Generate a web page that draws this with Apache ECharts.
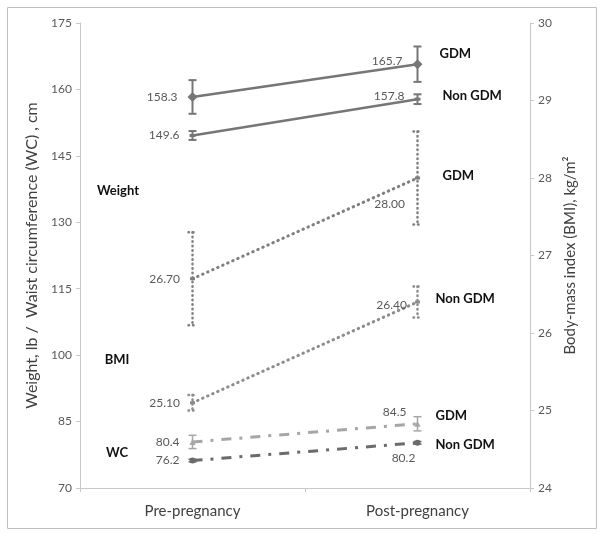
<!DOCTYPE html>
<html><head><meta charset="utf-8">
<script src="https://cdn.jsdelivr.net/npm/echarts@6/dist/echarts.min.js"></script>
<style>html,body{margin:0;padding:0;background:#fff}#c{width:604px;height:537px}</style>
</head><body><div id="c"></div>
<script>
// ---- data ----
const categories = ['Pre-pregnancy', 'Post-pregnancy'];
const weightGDM = [158.3, 165.7];
const weightGDMErr = [3.8, 4.0];
const weightNonGDM = [149.6, 157.8];
const weightNonGDMErr = [1.0, 1.1];
const bmiGDM = [26.70, 28.00];
const bmiGDMErr = [0.6, 0.6];
const bmiNonGDM = [25.10, 26.40];
const bmiNonGDMErr = [0.1, 0.2];
const wcGDM = [80.4, 84.5];
const wcGDMErr = [1.5, 1.6];
const wcNonGDM = [76.2, 80.2];
const wcNonGDMErr = [0.3, 0.3];
const leftTicks = [70, 175, 15];
const rightTicks = [24, 30, 1];
const groupLabels = ['Weight', 'BMI', 'WC'];

const chart = echarts.init(document.getElementById('c'), null, {renderer: 'canvas'});
const FONT = 'Lato';
const labelColor = '#595959';

function lineSeries(name, vals, decimals, yIdx, color, lineStyle, symbol, symbolSize, endText, endOffset, labelCfgs) {
  return {
    name, type: 'line', yAxisIndex: yIdx,
    data: vals.map((v, i) => ({
      value: v,
      label: Object.assign({show: true, formatter: v.toFixed(decimals), color: labelColor, fontFamily: FONT, fontSize: 12}, labelCfgs[i])
    })),
    symbol, symbolSize, showSymbol: true,
    itemStyle: {color},
    lineStyle: Object.assign({color}, lineStyle),
    endLabel: {show: true, formatter: endText, fontFamily: FONT, fontWeight: 'bold', fontSize: 13, color: '#111', distance: 22, offset: endOffset},
    z: 3, animation: false
  };
}

function errSeries(vals, errs, yIdx, color, lineStyle) {
  return {
    type: 'custom', yAxisIndex: yIdx, animation: false, z: 2,
    data: vals.map((v, i) => [i, v, errs[i]]),
    renderItem: function (params, api) {
      const x = api.value(0), y = api.value(1), e = api.value(2);
      const top = api.coord([x, y + e]);
      const bot = api.coord([x, y - e]);
      const w = 4;
      const style = Object.assign({stroke: color, fill: null}, lineStyle);
      return {type: 'group', children: [
        {type: 'line', shape: {x1: top[0], y1: top[1], x2: bot[0], y2: bot[1]}, style},
        {type: 'line', shape: {x1: top[0] - w, y1: top[1], x2: top[0] + w, y2: top[1]}, style},
        {type: 'line', shape: {x1: bot[0] - w, y1: bot[1], x2: bot[0] + w, y2: bot[1]}, style}
      ]};
    }
  };
}

const cWeight = '#767676';
const cBmiG = '#7f7f7f';
const cBmiN = '#8c8c8c';
const cWcG = '#a6a6a6';
const cWcN = '#6b6b6b';
const dotted = {type: [0.5, 5], cap: 'round', width: 3};
const dashDot = {type: [10, 8, 3, 8], width: 3};

const option = {
  backgroundColor: '#fff',
  animation: false,
  grid: {left: 80, right: 74, top: 23, bottom: 49},
  xAxis: {
    type: 'category', data: categories, boundaryGap: true,
    axisLine: {lineStyle: {color: '#c8c8c8', width: 1}},
    axisTick: {show: true, length: 4, lineStyle: {color: '#c8c8c8'}},
    axisLabel: {color: '#404040', fontFamily: FONT, fontSize: 15, margin: 16}
  },
  yAxis: [{
    type: 'value', min: leftTicks[0], max: leftTicks[1], interval: leftTicks[2], position: 'left',
    name: 'Weight, lb /  Waist circumference (WC) , cm', nameLocation: 'middle', nameRotate: 90, nameGap: 30,
    nameTextStyle: {color: '#404040', fontFamily: FONT, fontSize: 16},
    axisLine: {show: true, lineStyle: {color: '#c8c8c8'}},
    axisTick: {show: true, length: 4, lineStyle: {color: '#c8c8c8'}},
    axisLabel: {color: labelColor, fontFamily: FONT, fontSize: 12, margin: 8},
    splitLine: {show: false}
  }, {
    type: 'value', min: rightTicks[0], max: rightTicks[1], interval: rightTicks[2], position: 'right',
    name: 'Body-mass index (BMI), kg/m\u00B2', nameLocation: 'middle', nameRotate: 90, nameGap: 30,
    nameTextStyle: {color: '#404040', fontFamily: FONT, fontSize: 15},
    axisLine: {show: true, lineStyle: {color: '#c8c8c8'}},
    axisTick: {show: true, length: 4, lineStyle: {color: '#c8c8c8'}},
    axisLabel: {color: labelColor, fontFamily: FONT, fontSize: 12, margin: 8},
    splitLine: {show: false}
  }],
  graphic: [
    {type: 'rect', shape: {x: 7.5, y: 7.5, width: 589, height: 521}, style: {fill: null, stroke: '#bfbfbf', lineWidth: 1}, z: -1},
    {type: 'text', x: 118, y: 191, style: {text: groupLabels[0], fontFamily: FONT, fontWeight: 'bold', fontSize: 13, fill: '#111', align: 'center', verticalAlign: 'middle'}},
    {type: 'text', x: 117, y: 360, style: {text: groupLabels[1], fontFamily: FONT, fontWeight: 'bold', fontSize: 13, fill: '#111', align: 'center', verticalAlign: 'middle'}},
    {type: 'text', x: 117, y: 453, style: {text: groupLabels[2], fontFamily: FONT, fontWeight: 'bold', fontSize: 13, fill: '#111', align: 'center', verticalAlign: 'middle'}}
  ],
  series: [
    errSeries(weightGDM, weightGDMErr, 0, cWeight, {lineWidth: 2}),
    errSeries(weightNonGDM, weightNonGDMErr, 0, cWeight, {lineWidth: 2}),
    errSeries(bmiGDM, bmiGDMErr, 1, cBmiG, {lineWidth: 2.5, lineDash: [0.5, 4], lineCap: 'round'}),
    errSeries(bmiNonGDM, bmiNonGDMErr, 1, cBmiN, {lineWidth: 2.5, lineDash: [0.5, 4], lineCap: 'round'}),
    errSeries(wcGDM, wcGDMErr, 0, cWcG, {lineWidth: 1.5}),
    errSeries(wcNonGDM, wcNonGDMErr, 0, cWcN, {lineWidth: 1.5}),
    lineSeries('Weight GDM', weightGDM, 1, 0, cWeight, {width: 2.5}, 'diamond', 10, 'GDM', [0, -10],
      [{position: 'left', distance: 10}, {position: 'left', distance: 10, offset: [0, -3]}]),
    lineSeries('Weight Non GDM', weightNonGDM, 1, 0, cWeight, {width: 2.5}, 'rect', [6, 3], 'Non GDM', [3, -3],
      [{position: 'left', distance: 10}, {position: 'left', distance: 10, offset: [0, -3]}]),
    lineSeries('BMI GDM', bmiGDM, 2, 1, cBmiG, dotted, 'rect', [5, 3], 'GDM', [3, -2],
      [{position: 'left', distance: 10}, {position: 'left', distance: 10, offset: [0, 26]}]),
    lineSeries('BMI Non GDM', bmiNonGDM, 2, 1, cBmiN, dotted, 'rect', [5, 3], 'Non GDM', [-4, -3],
      [{position: 'left', distance: 10}, {position: 'left', distance: 8, offset: [0, 3]}]),
    lineSeries('WC GDM', wcGDM, 1, 0, cWcG, dashDot, 'triangle', 6, 'GDM', [-4, -8],
      [{position: 'left', distance: 10}, {position: 'left', distance: 8, offset: [0, -12]}]),
    lineSeries('WC Non GDM', wcNonGDM, 1, 0, cWcN, dashDot, 'circle', 6, 'Non GDM', [-4, 2],
      [{position: 'left', distance: 10}, {position: 'bottom', distance: 6, offset: [-14, 0]}])
  ]
};
chart.setOption(option);
</script>
</body></html>
